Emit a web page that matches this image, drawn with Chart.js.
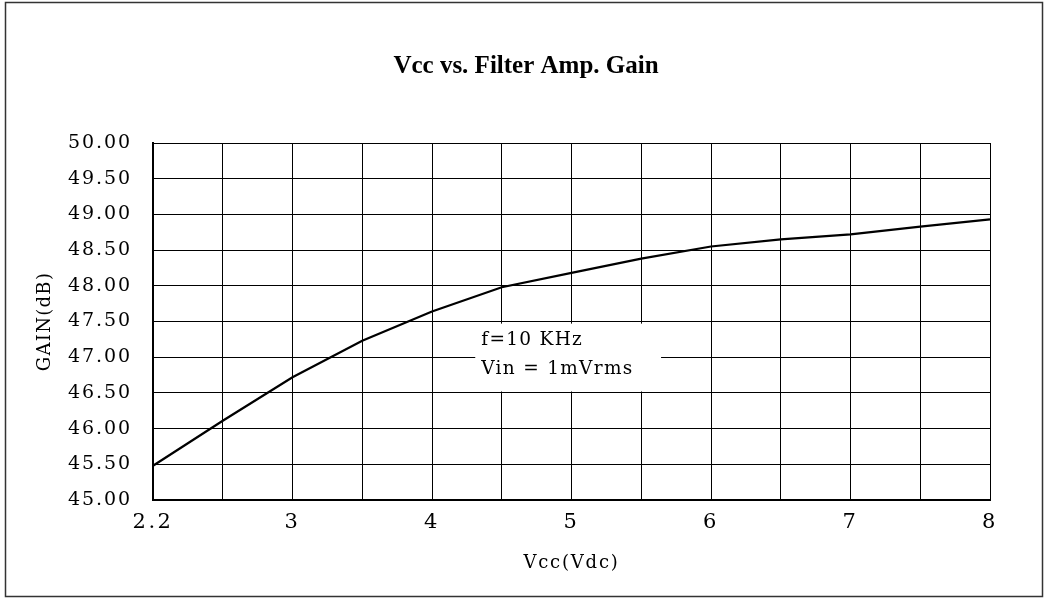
<!DOCTYPE html>
<html><head><meta charset="utf-8">
<script src="https://cdn.jsdelivr.net/npm/chart.js@4/dist/chart.umd.min.js"></script>
<style>html,body{margin:0;padding:0;background:#fff}#wrap{width:1044px;height:598px}</style>
</head><body><div id="wrap"><canvas id="c" width="1044" height="598"></canvas></div>
<script>
const categories = ['2.2','2.6','3','3.5','4','4.5','5','5.5','6','6.5','7','7.5','8'];
const gainDb = [45.48,46.11,46.72,47.23,47.64,47.98,48.18,48.38,48.55,48.65,48.72,48.83,48.93];
const xTickLabels = ['2.2','3','4','5','6','7','8'];
const yMin = 45, yMax = 50, yStep = 0.5;
const noteLines = ['f=10 KHz','Vin = 1mVrms'];
const chartTitle = 'Vcc vs. Filter Amp. Gain';
const xTitle = 'Vcc(Vdc)';
const yTitle = 'GAIN(dB)';

const SERIF = '"Liberation Serif", "Times New Roman", serif';
const DSERIF = '"DejaVu Serif", "Liberation Serif", serif';

const spacingPlugin = {
  id: 'spacing',
  beforeDraw(chart) {
    const specs = {x: {labels: '2.5px', title: '1.8px'}, y: {labels: '1.9px', title: '1.3px'}};
    for (const id in specs) {
      const s = chart.scales[id];
      if (!s || s._spPatched) continue;
      s._spPatched = true;
      const proto = Object.getPrototypeOf(s);
      s.drawLabels = function (a) { const c = this.ctx; c.save(); c.letterSpacing = specs[id].labels; proto.drawLabels.call(this, a); c.restore(); };
      s.drawTitle = function () { const c = this.ctx; c.save(); c.letterSpacing = specs[id].title; proto.drawTitle.call(this); c.restore(); };
    }
  }
};

const notePlugin = {
  id: 'note',
  beforeDatasetsDraw(chart) {
    const {ctx, chartArea: a, scales: {y}} = chart;
    const w = a.right - a.left;
    const left = a.left + w * 0.385, right = a.left + w * 0.607;
    const top = y.getPixelForValue(47.47), bottom = y.getPixelForValue(46.52);
    ctx.save();
    ctx.fillStyle = '#fff';
    ctx.fillRect(left, top, right - left, bottom - top);
    ctx.font = '18.5px ' + DSERIF;
    ctx.letterSpacing = '1.3px';
    ctx.fillStyle = '#000';
    ctx.textBaseline = 'middle';
    ctx.textAlign = 'left';
    ctx.fillText(noteLines[0], left + 6, y.getPixelForValue(47.24));
    ctx.fillText(noteLines[1], left + 6, y.getPixelForValue(46.83));
    ctx.restore();
  }
};

const framePlugin = {
  id: 'frame',
  afterDraw(chart) {
    const ctx = chart.ctx;
    ctx.save();
    ctx.strokeStyle = '#333';
    ctx.lineWidth = 1.5;
    ctx.strokeRect(5.5, 2.5, chart.width - 7, chart.height - 4);
    ctx.restore();
  }
};

new Chart(document.getElementById('c'), {
  type: 'line',
  data: {
    labels: categories,
    datasets: [{
      data: gainDb,
      borderColor: '#000',
      borderWidth: 2.2,
      pointRadius: 0,
      tension: 0,
      fill: false
    }]
  },
  options: {
    responsive: false,
    devicePixelRatio: 1,
    animation: false,
    events: [],
    layout: {padding: {left: 8, right: 0, top: 10, bottom: 4}},
    plugins: {
      legend: {display: false},
      tooltip: {enabled: false},
      title: {
        display: true,
        text: chartTitle,
        color: '#000',
        font: {family: SERIF, size: 25, weight: 'bold'},
        padding: {top: 42, bottom: 61}
      }
    },
    scales: {
      x: {
        offset: false,
        ticks: {
          autoSkip: false, maxRotation: 0, minRotation: 0,
          callback(v, i) { const l = categories[i]; return xTickLabels.includes(l) ? l : ''; },
          color: '#000', font: {family: DSERIF, size: 21}, padding: 10
        },
        grid: {color: '#000', lineWidth: 1, drawTicks: false},
        border: {color: '#000', width: 2},
        title: {display: true, text: xTitle, color: '#000', font: {family: DSERIF, size: 18}, padding: {top: 0, bottom: 20}},
        afterFit(s) { s.height = 94; }
      },
      y: {
        min: yMin, max: yMax,
        ticks: {stepSize: yStep, callback: v => Number(v).toFixed(2), color: '#000', font: {family: DSERIF, size: 19}, padding: 21},
        grid: {color: '#000', lineWidth: 1, drawTicks: false},
        border: {color: '#000', width: 2},
        title: {display: true, text: yTitle, color: '#000', font: {family: DSERIF, size: 18}, padding: {top: 27, bottom: 0}},
        afterFit(s) { s.width = 145; }
      },
      yR: {
        position: 'right',
        display: true,
        ticks: {display: false},
        grid: {display: false, drawTicks: false},
        border: {display: false},
        afterFit(s) { s.width = 54; }
      }
    }
  },
  plugins: [spacingPlugin, notePlugin, framePlugin]
});
</script>
</body></html>
